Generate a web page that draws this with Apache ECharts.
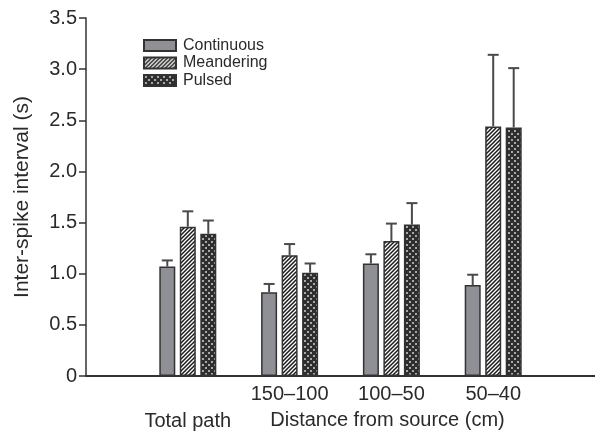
<!DOCTYPE html>
<html>
<head>
<meta charset="utf-8">
<script src="https://cdn.jsdelivr.net/npm/echarts@6/dist/echarts.min.js"></script>
<style>
  html, body { margin: 0; padding: 0; background: #fff; }
  #chart { width: 595px; height: 432px; }
</style>
</head>
<body>
<div id="chart"></div>
<script>
// Group labels along the x axis
const groupLabels = ['Total path', '150–100', '100–50', '50–40'];
// Mean inter-spike interval (s) per plume type
const continuous = [1.07, 0.82, 1.10, 0.89];
const meandering = [1.46, 1.18, 1.32, 2.44];
const pulsed = [1.39, 1.01, 1.48, 2.43];
// Upper error bar lengths (s)
const continuousErr = [0.06, 0.08, 0.09, 0.10];
const meanderingErr = [0.15, 0.11, 0.17, 0.70];
const pulsedErr = [0.13, 0.09, 0.21, 0.58];
// Y axis ticks
const yTicks = [0, 0.5, 1.0, 1.5, 2.0, 2.5, 3.0, 3.5];

const FONT = "'Liberation Sans', Arial, Helvetica, sans-serif";
const INK = '#2a2a2a';

// Diagonal "/" hatch tile
function hatchTile() {
  const c = document.createElement('canvas');
  c.width = 4; c.height = 4;
  const g = c.getContext('2d');
  g.fillStyle = '#ffffff';
  g.fillRect(0, 0, 4, 4);
  g.strokeStyle = '#1a1a1a';
  g.lineWidth = 1.5;
  g.beginPath();
  g.moveTo(-1, 5); g.lineTo(5, -1);
  g.moveTo(-3, 3); g.lineTo(3, -3);
  g.moveTo(1, 7); g.lineTo(7, 1);
  g.stroke();
  return c;
}

// Dark tile with a diagonal lattice of light dots
function dotTile() {
  const c = document.createElement('canvas');
  c.width = 6; c.height = 6;
  const g = c.getContext('2d');
  g.fillStyle = '#2e2e2e';
  g.fillRect(0, 0, 6, 6);
  g.fillStyle = '#a8a8a8';
  g.fillRect(1, 1, 2, 2);
  g.fillRect(4, 4, 2, 2);
  return c;
}

// Category slots: an empty slot at each end, bars sit on the inner ticks
const axisCats = [''].concat(groupLabels.map((l, i) => i === 0 ? '\n' + l : l), ['']);
const pad = arr => [null].concat(arr, [null]);

const BAR_W = 16;
const STEP = 20.5; // centre-to-centre distance of bars within a group

function errData(vals, errs) {
  return vals.map((v, i) => [i + 1, v, v + errs[i]]);
}

function errSeries(name, vals, errs, slot) {
  return {
    type: 'custom',
    name: name + ' err',
    z: 5,
    silent: true,
    data: errData(vals, errs),
    renderItem: function (params, api) {
      const base = api.coord([api.value(0), api.value(1)]);
      const top = api.coord([api.value(0), api.value(2)]);
      const x = base[0] + slot * STEP;
      const style = { stroke: '#4a4a4a', lineWidth: 2 };
      return {
        type: 'group',
        children: [
          { type: 'line', shape: { x1: x, y1: base[1], x2: x, y2: top[1] }, style: style },
          { type: 'line', shape: { x1: x - 5.5, y1: top[1], x2: x + 5.5, y2: top[1] }, style: style }
        ]
      };
    }
  };
}

const barBorder = { borderColor: '#333333', borderWidth: 1.5 };

const chart = echarts.init(document.getElementById('chart'), null, { renderer: 'canvas' });
chart.setOption({
  animation: false,
  backgroundColor: '#ffffff',
  textStyle: { fontFamily: FONT, color: INK },
  grid: { left: 86, right: 0, top: 18, bottom: 56, containLabel: false, outerBoundsMode: 'none' },
  legend: {
    data: ['Continuous', 'Meandering', 'Pulsed'],
    orient: 'vertical',
    left: 143,
    top: 37,
    padding: 0,
    itemWidth: 32,
    itemHeight: 11,
    itemGap: 0.5,
    icon: 'rect',
    textStyle: { fontFamily: FONT, fontSize: 16, color: INK, lineHeight: 17, padding: [0, 0, 0, 2] }
  },
  xAxis: {
    type: 'category',
    data: axisCats,
    boundaryGap: false,
    axisLine: { lineStyle: { color: '#333333', width: 2 } },
    axisTick: { show: false },
    axisLabel: { fontFamily: FONT, fontSize: 20, color: INK, margin: 5, lineHeight: 27, interval: 0 },
    name: 'Distance from source (cm)',
    nameLocation: 'middle',
    nameGap: 34,
    nameMoveOverlap: false,
    nameTextStyle: { fontFamily: FONT, fontSize: 20, color: INK, padding: [0, 0, 0, 94] }
  },
  yAxis: {
    type: 'value',
    min: yTicks[0],
    max: yTicks[yTicks.length - 1],
    interval: 0.5,
    axisLine: { show: true, lineStyle: { color: '#333333', width: 1.5 } },
    axisTick: { show: true, length: 7, lineStyle: { color: '#333333', width: 1.5 } },
    splitLine: { show: false },
    axisLabel: {
      fontFamily: FONT, fontSize: 20, color: INK, margin: 9,
      formatter: v => (v === 0 ? '0' : v.toFixed(1))
    },
    name: 'Inter-spike interval (s)',
    nameLocation: 'middle',
    nameGap: 53,
    nameMoveOverlap: false,
    nameTextStyle: { fontFamily: FONT, fontSize: 21, color: INK }
  },
  series: [
    {
      type: 'bar', name: 'Continuous', data: pad(continuous),
      barWidth: BAR_W, barGap: ((STEP - BAR_W) / BAR_W * 100) + '%',
      itemStyle: Object.assign({ color: '#8f9095' }, barBorder)
    },
    {
      type: 'bar', name: 'Meandering', data: pad(meandering),
      barWidth: BAR_W,
      itemStyle: Object.assign({ color: { image: hatchTile(), repeat: 'repeat' } }, barBorder)
    },
    {
      type: 'bar', name: 'Pulsed', data: pad(pulsed),
      barWidth: BAR_W,
      itemStyle: Object.assign({ color: { image: dotTile(), repeat: 'repeat' } }, barBorder)
    },
    errSeries('Continuous', continuous, continuousErr, -1),
    errSeries('Meandering', meandering, meanderingErr, 0),
    errSeries('Pulsed', pulsed, pulsedErr, 1)
  ]
});
</script>
</body>
</html>
